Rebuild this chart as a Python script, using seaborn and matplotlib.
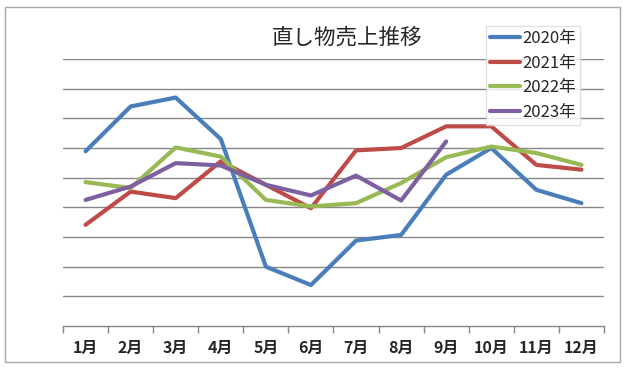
import matplotlib
matplotlib.use('Agg')
import matplotlib.pyplot as plt
from matplotlib.patches import Rectangle
import seaborn as sns
import pandas as pd

# ----------
# data (units = gridlines)
# ----------
months = ['1月', '2月', '3月', '4月', '5月', '6月', '7月', '8月', '9月', '10月', '11月', '12月']
y2020 = [5.89, 7.40, 7.70, 6.30, 2.00, 1.38, 2.88, 3.07, 5.10, 6.00, 4.59, 4.14]
y2021 = [3.41, 4.53, 4.31, 5.55, 4.76, 3.97, 5.92, 6.00, 6.73, 6.73, 5.43, 5.27]
y2022 = [4.85, 4.65, 6.02, 5.71, 4.25, 4.03, 4.14, 4.82, 5.69, 6.05, 5.83, 5.43]
y2023 = [4.25, 4.70, 5.49, 5.41, 4.76, 4.40, 5.07, 4.23, 6.22]
series = {'2020年': y2020, '2021年': y2021, '2022年': y2022, '2023年': y2023}
colors = ['#4a7ebb', '#be4b48', '#98b954', '#7d60a0']

rows = []
for name, vals in series.items():
    for i, v in enumerate(vals):
        rows.append({'月': i + 1, '売上': v, '年': name})
df = pd.DataFrame(rows)

# ----------
# styling
# ----------
sns.set_style('white')
plt.rcParams['font.family'] = ['Noto Sans CJK JP', 'DejaVu Sans']

fig = plt.figure(figsize=(6.27, 3.73), dpi=100)
ax = fig.add_axes([63 / 627, 1 - 326 / 373, (604 - 63) / 627, (326 - 59) / 373])

sns.lineplot(data=df, x='月', y='売上', hue='年', palette=colors, linewidth=3, ax=ax)

ax.set_xlim(0.5, 12.5)
ax.set_ylim(0, 9)
ax.set_yticks(range(1, 10))
ax.yaxis.grid(True, color='#868686', linewidth=1)
ax.set_axisbelow(True)
ax.tick_params(axis='y', left=False, labelleft=False)
ax.set_xticks(range(1, 13))
ax.set_xticklabels(months, fontsize=11.5, fontweight='bold')
ax.set_xticks([x + 0.5 for x in range(0, 13)], minor=True)
ax.tick_params(axis='x', which='major', length=0, pad=10)
ax.tick_params(axis='x', which='minor', length=5, color='#868686', width=1, bottom=True)
ax.set_xlabel('')
ax.set_ylabel('')
for s in ['top', 'right', 'left']:
    ax.spines[s].set_visible(False)
ax.spines['bottom'].set_color('#868686')
ax.spines['bottom'].set_linewidth(1)

fig.text(347 / 627, 1 - 38 / 373, '直し物売上推移', ha='center', va='center', fontsize=15.5)

leg = ax.legend(loc='upper left', bbox_to_anchor=(486 / 627, 1 - 26 / 373),
                bbox_transform=fig.transFigure, frameon=True, fancybox=False,
                fontsize=12, handlelength=1.8, handletextpad=0.1,
                labelspacing=0.45, borderpad=0.25, borderaxespad=0)
leg.get_frame().set_edgecolor('#d9d9d9')
leg.get_frame().set_linewidth(1)
for line in leg.get_lines():
    line.set_linewidth(3)

fig.patches.append(Rectangle((5 / 627, 1 - 362 / 373), 615 / 627, 355 / 373,
                             transform=fig.transFigure, fill=False,
                             edgecolor='#a6a6a6', linewidth=1))

fig.savefig('out.png', dpi=100)
